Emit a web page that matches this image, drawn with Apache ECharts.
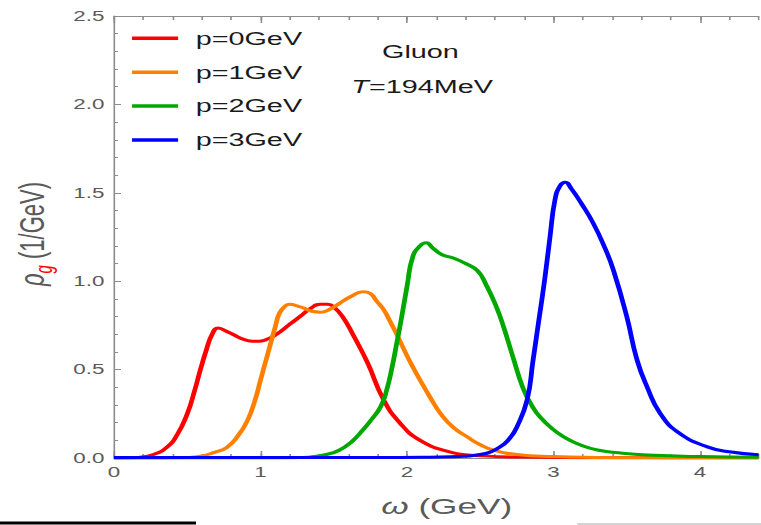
<!DOCTYPE html>
<html>
<head>
<meta charset="utf-8">
<script src="https://cdn.jsdelivr.net/npm/echarts@6/dist/echarts.min.js"></script>
<style>
html,body{margin:0;padding:0;background:#fff;overflow:hidden;width:761px;height:525px;}
#chart{position:absolute;left:0;top:0;width:476px;height:525px;transform:scaleX(1.59874);transform-origin:0 0;}
</style>
</head>
<body>
<div id="chart"></div>
<script>
// ---- data ----
const seriesNames = ['p=0GeV', 'p=1GeV', 'p=2GeV', 'p=3GeV'];
const xTickLabels = [0, 1, 2, 3, 4];
const yTickLabels = [0.0, 0.5, 1.0, 1.5, 2.0, 2.5];

const omegaP0 = [0, 0.10, 0.18, 0.27, 0.36, 0.43, 0.50, 0.55, 0.59, 0.63, 0.67, 0.71, 0.76, 0.81, 0.89, 0.97, 1.04, 1.11, 1.19, 1.27, 1.34, 1.41, 1.46, 1.50, 1.56, 1.63, 1.73, 1.84, 1.95, 2.09, 2.29, 2.52, 2.80, 3.20, 3.60, 4.00, 4.40];
const rhoP0   = [0, 0.001, 0.005, 0.02, 0.06, 0.13, 0.25, 0.38, 0.50, 0.61, 0.70, 0.735, 0.72, 0.70, 0.67, 0.66, 0.67, 0.70, 0.75, 0.80, 0.845, 0.87, 0.87, 0.855, 0.80, 0.70, 0.54, 0.33, 0.20, 0.10, 0.035, 0.012, 0.005, 0.002, 0.001, 0.0005, 0];

const omegaP1 = [0, 0.30, 0.50, 0.59, 0.68, 0.77, 0.85, 0.91, 0.96, 1.00, 1.04, 1.07, 1.10, 1.13, 1.17, 1.20, 1.25, 1.29, 1.35, 1.41, 1.47, 1.54, 1.62, 1.70, 1.75, 1.79, 1.84, 1.88, 1.93, 1.97, 2.03, 2.09, 2.16, 2.23, 2.32, 2.41, 2.50, 2.59, 2.75, 3.00, 3.30, 3.70, 4.40];
const rhoP1   = [0, 0.0005, 0.003, 0.01, 0.03, 0.06, 0.13, 0.21, 0.32, 0.44, 0.56, 0.65, 0.74, 0.82, 0.86, 0.87, 0.86, 0.85, 0.83, 0.825, 0.84, 0.875, 0.915, 0.94, 0.93, 0.89, 0.84, 0.78, 0.70, 0.63, 0.53, 0.44, 0.34, 0.25, 0.17, 0.12, 0.075, 0.045, 0.02, 0.008, 0.003, 0.001, 0];

const omegaP2 = [0, 1.00, 1.20, 1.32, 1.45, 1.54, 1.62, 1.70, 1.76, 1.82, 1.86, 1.90, 1.93, 1.96, 2.00, 2.04, 2.09, 2.13, 2.18, 2.24, 2.32, 2.40, 2.48, 2.54, 2.61, 2.66, 2.72, 2.79, 2.85, 2.91, 3.00, 3.07, 3.18, 3.30, 3.47, 3.64, 4.00, 4.40];
const rhoP2   = [0, 0, 0.001, 0.005, 0.02, 0.045, 0.09, 0.16, 0.22, 0.29, 0.38, 0.52, 0.65, 0.78, 0.97, 1.14, 1.20, 1.217, 1.185, 1.15, 1.13, 1.10, 1.06, 0.98, 0.855, 0.74, 0.58, 0.40, 0.30, 0.23, 0.16, 0.12, 0.075, 0.045, 0.027, 0.017, 0.008, 0.004];

const omegaP3 = [0, 1.80, 2.10, 2.30, 2.50, 2.63, 2.70, 2.75, 2.82, 2.86, 2.90, 2.94, 2.976, 3.01, 3.045, 3.08, 3.12, 3.19, 3.27, 3.35, 3.41, 3.50, 3.57, 3.64, 3.73, 3.86, 4.05, 4.20, 4.40];
const rhoP3   = [0.003, 0.003, 0.004, 0.007, 0.02, 0.06, 0.11, 0.175, 0.33, 0.55, 0.78, 1.01, 1.25, 1.46, 1.54, 1.56, 1.525, 1.44, 1.33, 1.19, 1.06, 0.80, 0.555, 0.40, 0.25, 0.14, 0.063, 0.035, 0.018];

// ---- chart ----
const FONT = '"Liberation Sans", Arial, sans-serif';
const colors = ['#ff0000', '#ff8000', '#00a800', '#0000ff'];
const xs = [omegaP0, omegaP1, omegaP2, omegaP3];
const ys = [rhoP0, rhoP1, rhoP2, rhoP3];

const chart = echarts.init(document.getElementById('chart'), null, {renderer: 'svg', width: 476, height: 525});
const axisGray = '#8c8c8c';
const labelGray = '#5a5a5a';

const baseX = {type: 'value', min: 0, max: 4.4, gridIndex: 0, splitLine: {show: false}};
const option = {
  backgroundColor: '#fff',
  animation: false,
  textStyle: {fontFamily: FONT},
  grid: {left: 71.3, right: 1.5, top: 16, bottom: 67, containLabel: false},
  legend: {
    orient: 'vertical', left: 82.6, top: 27.3, padding: 0,
    itemWidth: 28.8, itemHeight: 3.5, itemGap: 11.9, icon: 'rect',
    textStyle: {fontFamily: FONT, fontSize: 18, color: '#1a1a1a', lineHeight: 22, padding: [0, 0, 0, 6]},
    data: seriesNames
  },
  xAxis: [
    Object.assign({}, baseX, {
      position: 'bottom', interval: 0.2,
      name: '{i|ω} (GeV)', nameLocation: 'middle', nameGap: 37,
      nameTextStyle: {fontFamily: FONT, fontSize: 22, color: labelGray, padding: [0, 0, 0, 13],
        rich: {i: {fontFamily: FONT, fontSize: 22, fontStyle: 'italic', color: labelGray}}},
      axisLine: {show: true, lineStyle: {color: axisGray, width: 1}},
      axisTick: {show: true, inside: true, length: 4, lineStyle: {color: axisGray}},
      axisLabel: {show: true, customValues: xTickLabels, margin: 7, fontFamily: FONT, fontSize: 14, color: labelGray,
        formatter: v => String(Math.round(v))}
    }),
    Object.assign({}, baseX, {
      position: 'top', interval: 0.2,
      axisLine: {show: true, lineStyle: {color: axisGray, width: 1}},
      axisTick: {show: true, inside: true, length: 4, lineStyle: {color: axisGray}},
      axisLabel: {show: false}
    }),
    Object.assign({}, baseX, {
      position: 'bottom', interval: 1,
      axisLine: {show: false},
      axisTick: {show: true, inside: true, length: 7, customValues: xTickLabels, lineStyle: {color: axisGray}},
      axisLabel: {show: false}
    }),
    Object.assign({}, baseX, {
      position: 'top', interval: 1,
      axisLine: {show: false},
      axisTick: {show: true, inside: true, length: 7, customValues: xTickLabels, lineStyle: {color: axisGray}},
      axisLabel: {show: false}
    })
  ],
  yAxis: [{
    type: 'value', min: 0, max: 2.5, interval: 0.5, position: 'left',
    splitLine: {show: false},
    axisLine: {show: true, lineStyle: {color: axisGray, width: 1}},
    axisTick: {show: true, inside: true, length: 4.4, lineStyle: {color: axisGray}},
    minorTick: {show: true, splitNumber: 5, length: 2.5, lineStyle: {color: axisGray}},
    axisLabel: {margin: 6, fontFamily: FONT, fontSize: 14, color: labelGray,
      customValues: yTickLabels, formatter: v => v.toFixed(1)}
  }],
  graphic: [
    {type: 'text', x: 263, y: 52, style: {text: 'Gluon', font: '18px ' + FONT, fill: '#1a1a1a', align: 'center', verticalAlign: 'middle'}},
    {type: 'text', x: 264, y: 87, style: {text: '{it|T}{n|=194MeV}', align: 'center', verticalAlign: 'middle',
      rich: {it: {font: 'italic 18px ' + FONT, fill: '#1a1a1a'}, n: {font: '18px ' + FONT, fill: '#1a1a1a'}}}},
    {type: 'text', x: 21.9, y: 234, rotation: Math.PI / 2,
      style: {text: '{r|ρ}{g|g}{u| (1/GeV)}', align: 'center', verticalAlign: 'middle',
        rich: {
          r: {font: 'italic 22px ' + FONT, fill: labelGray, lineHeight: 26, verticalAlign: 'top'},
          g: {font: 'italic 15px ' + FONT, fill: '#ff0000', lineHeight: 16, padding: [11, 0, 0, 0], verticalAlign: 'top'},
          u: {font: '22px ' + FONT, fill: labelGray, lineHeight: 26, verticalAlign: 'top'}
        }}},
    {type: 'rect', shape: {x: 0, y: 521.5, width: 122.6, height: 3}, style: {fill: '#000'}, silent: true},
    {type: 'rect', shape: {x: 361, y: 523.5, width: 115, height: 1}, style: {fill: '#a8a8a8'}, silent: true}
  ],
  series: seriesNames.map((name, i) => ({
    name: name, type: 'line', xAxisIndex: 0, yAxisIndex: 0,
    data: xs[i].map((x, k) => [x, ys[i][k]]),
    smooth: 0.5, symbol: 'none', clip: true,
    lineStyle: {color: colors[i], width: 3},
    itemStyle: {color: colors[i]},
    z: 3 + i
  }))
};
chart.setOption(option);
</script>
</body>
</html>
